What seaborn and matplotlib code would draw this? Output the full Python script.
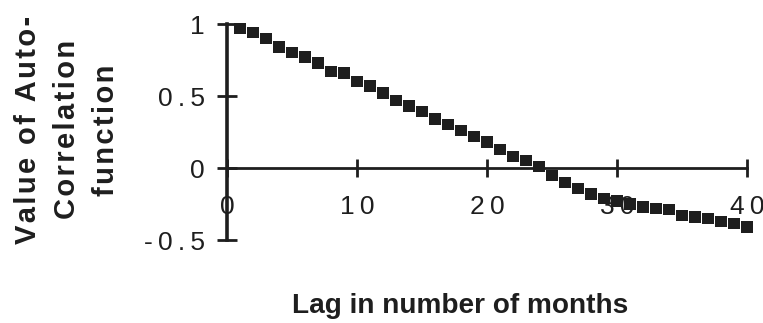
import matplotlib
matplotlib.use("Agg")
import matplotlib.pyplot as plt
import seaborn as sns
import pandas as pd

# Autocorrelation of the monthly series, lags 1..40
lags = list(range(1, 41))
acf = [0.97, 0.94, 0.90, 0.84, 0.80, 0.77, 0.73, 0.67, 0.66, 0.60,
       0.57, 0.52, 0.47, 0.43, 0.39, 0.34, 0.30, 0.26, 0.22, 0.18,
       0.13, 0.08, 0.05, 0.01, -0.05, -0.10, -0.14, -0.18, -0.21, -0.23,
       -0.25, -0.27, -0.28, -0.29, -0.33, -0.34, -0.35, -0.37, -0.385, -0.41]

x_ticks = [0, 10, 20, 30, 40]
x_tick_labels = ["0", "10", "20", "30", "40"]
y_ticks = [-0.5, 0, 0.5, 1]
y_tick_labels = ["-0.5", "0", "0.5", "1"]

x_label = "Lag in number of months"
y_label_lines = ["Value of Auto-", "Correlation", "function"]


def tracked(text, gap):
    # loose letter spacing, done with narrow space characters
    return gap.join(text)


THIN = "\u2009"
HAIR = "\u200a"

sns.set_style("white")
plt.rcParams["font.family"] = ["Liberation Sans", "DejaVu Sans"]

ink = "#1e1e1e"
W, H = 763, 323
fig = plt.figure(figsize=(W / 100, H / 100), dpi=100)
# axes box: x 0..40 spans px 227..747, y -0.5..1 spans px 240..24
ax = fig.add_axes([227 / W, 1 - 240 / H, 520 / W, 216 / H])

df = pd.DataFrame({"lag": lags, "acf": acf})
sns.scatterplot(data=df, x="lag", y="acf", marker="s", s=66, color=ink,
                edgecolor="none", linewidth=0, clip_on=False, ax=ax, zorder=3)

ax.set_xlim(0, 40)
ax.set_ylim(-0.5, 1)

for side in ("top", "right"):
    ax.spines[side].set_visible(False)
ax.spines["bottom"].set_position(("data", 0))
ax.spines["left"].set_linewidth(2.6)
ax.spines["bottom"].set_linewidth(2.0)
ax.spines["left"].set_color(ink)
ax.spines["bottom"].set_color(ink)

ax.set_xticks(x_ticks)
ax.set_xticklabels([tracked(t, THIN) for t in x_tick_labels])
ax.set_yticks(y_ticks)
ax.set_yticklabels([tracked(t, THIN) for t in y_tick_labels])
ax.tick_params(axis="y", left=True, direction="inout", length=14, width=2,
               color=ink, labelsize=19, labelcolor=ink, pad=9)
ax.tick_params(axis="x", bottom=True, direction="inout", length=13, width=2,
               color=ink, labelsize=19, labelcolor=ink, pad=13)
for lbl in ax.get_xticklabels():
    lbl.set_zorder(5)

ax.set_xlabel(x_label, fontsize=20.2, fontweight="bold", color=ink)
ax.xaxis.set_label_coords(0.448, -0.338)
ax.xaxis.label.set_verticalalignment("baseline")

y_label = "\n".join(tracked(line, HAIR) for line in y_label_lines)
ax.set_ylabel(y_label, fontsize=21, fontweight="bold", color=ink,
              linespacing=1.5, multialignment="center")
ax.yaxis.set_label_coords(-0.307, 0.51)
ax.yaxis.label.set_verticalalignment("center")

fig.savefig("out.png", dpi=100)
